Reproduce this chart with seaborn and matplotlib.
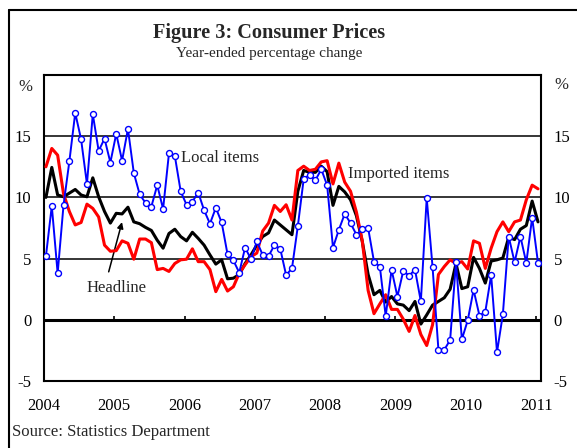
import numpy as np
import matplotlib
matplotlib.use("Agg")
import matplotlib.pyplot as plt
from matplotlib.lines import Line2D
import seaborn as sns

# monthly, Jan 2004 .. Jan 2011 (year-ended % change)
local_items = [5.2, 9.3, 3.8, 9.35, 12.95, 16.9, 14.75, 11.1, 16.8, 13.8, 14.8, 12.85,
               15.2, 13.0, 15.6, 12.0, 10.25, 9.55, 9.25, 11.0, 9.05, 13.6, 13.4, 10.5,
               9.4, 9.65, 10.4, 8.95, 7.85, 9.15, 7.95, 5.35, 4.85, 3.85, 5.9, 4.95,
               6.4, 5.3, 5.2, 6.1, 5.8, 3.65, 4.2, 7.65, 11.5, 11.85, 11.4, 12.3,
               11.0, 5.9, 7.35, 8.65, 7.9, 6.95, 7.4, 7.5, 4.75, 4.35, 0.3, 4.1,
               1.9, 4.0, 3.6, 4.1, 1.5, 9.95, 4.3, -2.45, -2.45, -1.65, 4.7, -1.6,
               -0.05, 2.45, 0.35, 0.65, 3.65, -2.65, 0.45, 6.8, 4.7, 6.8, 4.65, 8.35,
               4.65]
headline = [10.0, 12.45, 10.2, 10.05, 10.35, 10.65, 10.2, 10.05, 11.6, 10.05, 8.85, 7.9,
            8.7, 8.65, 9.2, 8.0, 7.85, 7.55, 7.3, 6.5, 5.85, 7.05, 7.4, 6.8,
            6.45, 7.15, 6.65, 6.1, 5.3, 4.55, 4.9, 3.35, 3.4, 3.7, 4.6, 5.3,
            6.1, 6.8, 7.1, 8.15, 7.75, 7.35, 6.95, 10.5, 12.2, 12.05, 12.05, 12.55,
            12.1, 9.35, 10.9, 10.45, 9.8, 8.5, 6.4, 3.7, 2.05, 2.4, 1.45, 1.9,
            1.3, 1.2, 0.75, 1.5, -0.35, 0.4, 1.2, 1.5, 1.8, 2.5, 4.6, 2.55,
            2.7, 5.1, 4.2, 3.0, 4.8, 4.9, 5.05, 6.75, 6.55, 7.4, 7.7, 9.7,
            8.0]
imported_items = [12.5, 14.0, 13.45, 10.3, 8.85, 7.75, 7.95, 9.45, 9.1, 8.4, 6.1, 5.6,
                  5.65, 6.45, 6.25, 4.95, 6.6, 6.6, 6.3, 4.1, 4.2, 3.95, 4.6, 4.9,
                  4.95, 5.8, 4.75, 4.75, 4.1, 2.3, 3.3, 2.35, 2.7, 3.8, 4.5, 5.15,
                  5.45, 7.25, 7.9, 9.35, 8.85, 9.4, 8.15, 12.2, 12.55, 12.2, 12.3, 12.9,
                  13.0, 11.1, 12.8, 11.25, 10.5, 8.8, 6.45, 2.4, 0.5, 1.3, 2.05, 0.85,
                  0.85, 0.05, -0.95, 0.35, -1.2, -2.1, -0.4, 3.7, 4.35, 4.9, 4.6, 4.75,
                  4.15, 6.45, 6.25, 4.2, 5.85, 7.2, 8.0, 7.2, 8.0, 8.15, 9.8, 11.0,
                  10.7]
year_ticks = [2004, 2005, 2006, 2007, 2008, 2009, 2010, 2011]
y_ticks = [-5, 0, 5, 10, 15]

months = np.arange(len(headline))
x = 2004 + (months + 0.33) / 12

sns.set_style("white")
plt.rcParams['font.family'] = ['Liberation Serif', 'DejaVu Serif']
plt.rcParams['axes.unicode_minus'] = False

fig = plt.figure(figsize=(5.77, 4.48), dpi=100)
ax = fig.add_axes([44 / 577, 67 / 448, 497 / 577, 306 / 448])

# horizontal grid + zero line
for v in [5, 10, 15]:
    ax.axhline(v, color='black', lw=1.1, zorder=1)
ax.axhline(0, color='black', lw=2.2, zorder=1)
ax.vlines(year_ticks[1:], 0, 0.35, color='black', lw=1.2, zorder=1)

sns.lineplot(x=x, y=headline, ax=ax, color='black', linewidth=2.2, zorder=3)
sns.lineplot(x=x, y=imported_items, ax=ax, color='#ff0000', linewidth=2.2, zorder=4)
sns.lineplot(x=x, y=local_items, ax=ax, color='#0000ff', linewidth=1.4, zorder=5,
             marker='o', markersize=4.3, markerfacecolor='white',
             markeredgecolor='#0000ff', markeredgewidth=1.0)

ax.set_xlim(2004, 2011.07)
ax.set_ylim(-5, 20)
ax.set_xticks(year_ticks)
ax.set_yticks(y_ticks)
ax.tick_params(length=0, labelsize=12, labelcolor='black')
ax.tick_params(axis='y', pad=9, labelright=True)
ax.tick_params(axis='x', pad=12)
for s in ax.spines.values():
    s.set_color('black')
    s.set_linewidth(1.5)

# % unit labels
ax.text(-0.038, 19.0, '%', transform=ax.get_yaxis_transform(), ha='center', va='center', fontsize=12)
ax.text(1.042, 19.2, '%', transform=ax.get_yaxis_transform(), ha='center', va='center', fontsize=12)

# series labels
ax.text(2005.95, 13.2, 'Local items', fontsize=12, va='center')
ax.text(2008.32, 11.9, 'Imported items', fontsize=12, va='center')
ax.text(2004.61, 2.6, 'Headline', fontsize=12, va='center')
ax.annotate('', xy=(2005.12, 8.2), xytext=(2004.91, 3.7),
            arrowprops=dict(arrowstyle='-|>', color='black', lw=1.1, mutation_scale=9))

fig.text(0.466, 1 - 33 / 448, 'Figure 3: Consumer Prices', ha='center', va='center',
         fontsize=14.6, fontweight='bold')
fig.text(0.466, 1 - 53 / 448, 'Year-ended percentage change', ha='center', va='center',
         fontsize=11)
fig.text(12 / 577, 1 - 432 / 448, 'Source: Statistics Department', ha='left', va='center',
         fontsize=12)

# outer frame (left and top edges only, rest is cropped)
fig.add_artist(Line2D([9 / 577, 9 / 577], [0, 1 - 10 / 448], transform=fig.transFigure,
                      color='black', lw=1.5))
fig.add_artist(Line2D([9 / 577, 1], [1 - 10 / 448, 1 - 10 / 448], transform=fig.transFigure,
                      color='black', lw=1.5))

fig.savefig('out.png', dpi=100)
